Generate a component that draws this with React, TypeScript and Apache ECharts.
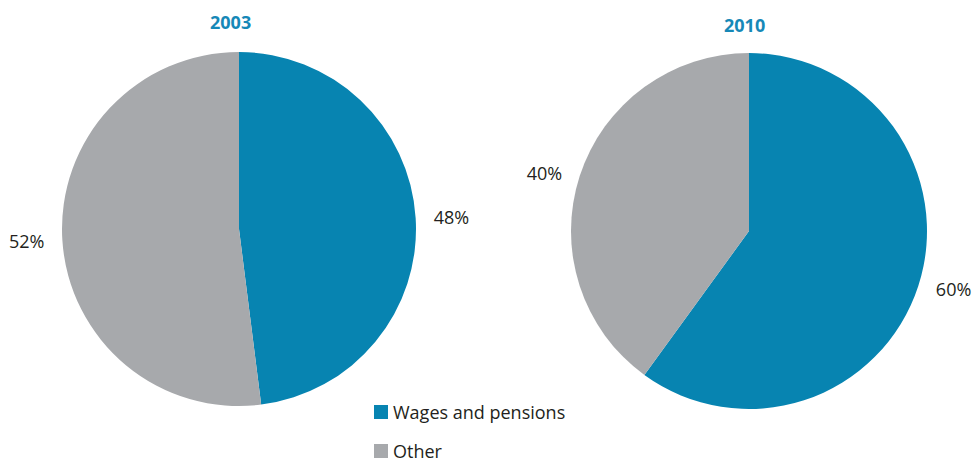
import React, { useEffect, useRef } from "react";
import * as echarts from "echarts";

const categories = ["Wages and pensions", "Other"];
const years = ["2003", "2010"];
const values2003 = [48, 52];
const values2010 = [60, 40];
const colors = ["#0784b1", "#a7a9ac"];

export default function App() {
  const ref = useRef<HTMLDivElement>(null);
  useEffect(() => {
    if (!ref.current) return;
    const chart = echarts.init(ref.current, null, { renderer: "svg" });
    const font = "'Open Sans', 'Noto Sans', sans-serif";
    const mk = (vals: number[], center: [number, number], radius: number) => ({
      type: "pie",
      center,
      radius,
      startAngle: 90,
      clockwise: true,
      avoidLabelOverlap: false,
      data: categories.map((c, i) => ({ name: c, value: vals[i] })),
      label: {
        show: true,
        position: "outside",
        formatter: "{c}%",
        fontSize: 18,
        fontFamily: font,
        color: "#231f20",
        distanceToLabelLine: 5,
      },
      labelLine: { show: false, length: 9, length2: 4 },
      itemStyle: { borderWidth: 0 },
      emphasis: { disabled: true },
    });
    const legendBase = {
      orient: "vertical",
      left: 374,
      padding: 0,
      icon: "rect",
      itemWidth: 14,
      itemHeight: 14,
      selectedMode: false,
      textStyle: { fontSize: 18, fontFamily: font, color: "#231f20", lineHeight: 18 },
    };
    chart.setOption({
      animation: false,
      color: colors,
      title: [
        {
          text: years[0],
          left: 210,
          top: 13,
          padding: 0,
          textStyle: { fontSize: 18, fontWeight: "bold", color: "#1688b7", fontFamily: font },
        },
        {
          text: years[1],
          left: 724,
          top: 16,
          padding: 0,
          textStyle: { fontSize: 18, fontWeight: "bold", color: "#1688b7", fontFamily: font },
        },
      ],
      legend: [
        { ...legendBase, top: 403, data: [categories[0]] },
        { ...legendBase, top: 442, data: [categories[1]] },
      ],
      series: [mk(values2003, [239, 229], 177), mk(values2010, [749, 231], 178)],
    });
    return () => chart.dispose();
  }, []);
  return (
    <div
      ref={ref}
      style={{ position: "absolute", left: 0, top: 0, width: 975, height: 462, background: "#fff" }}
    />
  );
}
